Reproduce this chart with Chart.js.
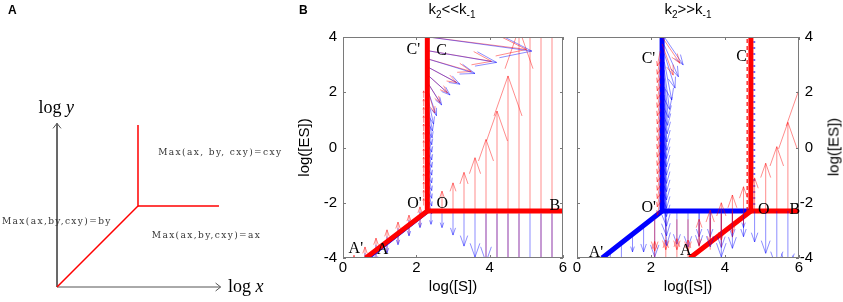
<!DOCTYPE html>
<html>
<head>
<meta charset="utf-8">
<script src="https://cdn.jsdelivr.net/npm/chart.js@4.4.1/dist/chart.umd.min.js"></script>
<style>
  body { margin: 0; width: 843px; height: 302px; background: #fff; position: relative; overflow: hidden;
         font-family: 'Liberation Sans', Arial, sans-serif; color: #000; }
  canvas { position: absolute; top: 0; }
  .tag { position: absolute; top: 3px; font-weight: bold; font-size: 12px; }
  .ttl { position: absolute; top: 10px; transform: translate(-50%, -50%); font-size: 15px; white-space: nowrap; }
  .ttl sub { font-size: 10px; }
  .ylab { position: absolute; left: 833px; top: 147px; transform: translate(-50%, -50%) rotate(-90deg);
          font-size: 15px; white-space: nowrap; }
</style>
</head>
<body>
<canvas id="cA" width="290" height="302" style="left:0"></canvas>
<canvas id="cL" width="280" height="302" style="left:290px"></canvas>
<canvas id="cR" width="273" height="302" style="left:570px"></canvas>
<div class="tag" style="left:8px">A</div>
<div class="tag" style="left:299px">B</div>
<div class="ttl" style="left:452px">k<sub>2</sub>&lt;&lt;k<sub>-1</sub></div>
<div class="ttl" style="left:688px">k<sub>2</sub>&gt;&gt;k<sub>-1</sub></div>
<div class="ylab">log([ES])</div>
<script>
const SANS = "'Liberation Sans', Arial, sans-serif";
const SERIF = "'Liberation Serif', 'Times New Roman', serif";
const RED = 'rgba(255,0,0,0.45)';
const BLUE = 'rgba(0,0,255,0.45)';

// ---- panel A (schematic, log units) ----
const axisLen = 2.02;
const aDiagX = [0, 1, 1], aDiagY = [0, 1, 2];   // diagonal + vertical branch
const aFlatX = [1, 2], aFlatY = [1, 1];         // horizontal branch
const aTexts = ['Max(ax, by, cxy)=cxy', 'Max(ax,by,cxy)=by', 'Max(ax,by,cxy)=ax'];
const aTextX = [1.25, -0.68, 1.17];
const aTextY = [1.66, 0.81, 0.64];

// ---- panel B left: k2 << k-1 ----
const lRedX = [0.62, 2.3, 2.3], lRedY = [-4, -2.3, 4];
const lRedHX = [2.3, 6], lRedHY = [-2.3, -2.3];
const lBlueX = [0.7, 2.28, 2.28], lBlueY = [-4, -2.36, 4];

const lUpX  = [2.7, 3.0, 3.3, 3.6, 3.9, 4.2, 4.5, 4.8, 5.1, 5.4, 5.7, 6.0];
const lUpTo = [-1.58, -1.28, -0.9, -0.37, 0.29, 1.32, 2.59, 4.3, 5.9, 7.4, 8.9, 10.5];
const lUnderX = [3.9, 4.2, 4.5, 4.8, 5.4, 5.7];
const lDownX  = [2.4, 2.7, 3.0, 3.3, 3.6, 3.9, 4.2, 4.5, 4.8, 5.1, 5.4, 5.7, 6.0];
const lDownTo = [-2.78, -2.9, -3.17, -3.57, -3.97, -4.15, -4.8, -5.2, -5.6, -6.0, -6.4, -6.8, -7.2];

const lDiagX = [0.3, 0.6, 0.9, 1.2, 1.5, 1.8, 2.1];
const lDiagUpFrom = [-4.67, -4.37, -4.07, -3.77, -3.47, -3.17, -2.87];
const lDiagUpTo   = [-3.9, -3.6, -3.28, -2.98, -2.7, -2.45, -2.15];
const lDiagDnFrom = [-4.12, -3.82, -3.52, -3.22, -2.92, -2.62, -2.32];
const lDiagDnTo   = [-4.72, -4.42, -4.12, -3.82, -3.52, -3.2, -2.9];

const lColY0 = [-2.1, -1.8, -1.5, -1.2, -0.9, -0.6, -0.3, 0.0, 0.3, 0.6, 0.9, 1.2, 1.5, 1.8];
const lColY1 = [-1.85, -1.55, -1.25, -0.95, -0.65, -0.35, -0.05, 0.25, 0.55, 0.85, 1.15, 1.45, 1.75, 2.05];

const lFanY0 = [4.0, 3.5, 3.2, 2.9, 2.6, 2.3, 2.0, 1.7, 1.4, 1.1, 0.8, 0.5, 0.2, -0.1, -0.4, -0.7, -1.0, -1.3, -1.6, -1.9];
const lFanX1 = [5.15, 4.19, 3.6, 3.19, 2.92, 2.69, 2.55, 2.47, 2.44, 2.43, 2.42, 2.42, 2.42, 2.42, 2.42, 2.42, 2.42, 2.42, 2.42, 2.42];
const lFanY1 = [3.49, 3.08, 2.68, 2.29, 1.9, 1.54, 1.15, 0.85, 0.6, 0.35, 0.1, -0.17, -0.45, -0.72, -1.0, -1.28, -1.56, -1.84, -2.12, -2.4];
const lRedFanY0 = [4.0, 3.5, 3.2, 2.9, 2.6, 2.3, 2.0];
const lRedFanX1 = [5.0, 4.05, 3.5, 3.1, 2.85, 2.65, 2.5];
const lRedFanY1 = [3.55, 3.12, 2.75, 2.35, 1.98, 1.62, 1.25];

// ---- panel B right: k2 >> k-1 ----
const rBlueX = [0.68, 2.3, 2.3], rBlueY = [-4, -2.3, 4];
const rBlueHX = [2.3, 4.7], rBlueHY = [-2.3, -2.3];
const rRedX = [3.05, 4.7, 4.7], rRedY = [-4, -2.3, 4];
const rRedHX = [4.7, 6], rRedHY = [-2.3, -2.3];
const rDashX = [4.6, 4.6], rDotX = [4.79, 4.79], rDashY = [-2.3, 4];

const rDownX    = [0.9, 1.2, 1.5, 1.8, 2.1, 2.7, 3.0, 3.3, 3.6, 3.9, 4.2, 4.5, 4.8, 5.1, 5.4, 5.7, 6.0];
const rDownFrom = [-3.77, -3.45, -3.14, -2.82, -2.51, -2.3, -2.3, -2.3, -2.3, -2.3, -2.3, -2.3, -2.3, -2.3, -2.3, -2.3, -2.3];
const rDownTo   = [-4.3, -4.4, -3.78, -3.78, -3.96, -3.5, -3.6, -3.23, -3.23, -3.96, -3.65, -3.23, -3.42, -3.83, -4.4, -4.5, -4.6];
const rDown2X  = [3.3, 3.6, 3.9, 4.2, 4.5];
const rDown2To = [-3.55, -3.6, -3.62, -3.23, -2.9];

const rUpX    = [3.3, 3.6, 3.9, 4.2, 4.5, 4.8, 5.1, 5.4, 5.7, 6.0];
const rUpFrom = [-3.6, -3.7, -3.6, -3.25, -2.8, -2.35, -2.3, -2.3, -2.3, -2.3];
const rUpTo   = [-2.6, -2.27, -2.0, -1.72, -1.42, -1.1, -0.57, 0.03, 0.91, 2.1];
const rRedDnX    = [3.3, 3.6, 3.9, 4.2];
const rRedDnFrom = [-2.75, -2.55, -2.4, -2.3];
const rRedDnTo   = [-3.55, -3.5, -3.35, -3.1];
const rCrossX    = [2.1, 2.4, 2.7, 3.0];
const rCrossUpTo = [-3.4, -3.35, -3.3, -3.35];
const rCrossDnTo = [-3.75, -3.7, -3.7, -3.75];

const rFanY0 = [4.0, 3.7, 3.4, 3.1, 2.8, 2.5, 2.2, 1.9, 1.6, 1.3, 1.0, 0.7, 0.4, 0.1, -0.2, -0.5, -0.8, -1.1, -1.4, -1.7, -2.0];
const rFanX1 = [2.87, 2.74, 2.65, 2.56, 2.5, 2.47, 2.45, 2.44, 2.43, 2.43, 2.42, 2.42, 2.42, 2.42, 2.42, 2.42, 2.42, 2.42, 2.42, 2.42, 2.42];
const rFanY1 = [2.99, 2.56, 2.15, 1.72, 1.38, 1.08, 0.8, 0.5, 0.2, -0.1, -0.4, -0.7, -1.0, -1.3, -1.6, -1.9, -2.2, -2.5, -2.85, -3.2, -3.55];
const rColY0 = [3.5, 3.2, 2.9, 2.6, 2.3, 2.0, 1.7, 1.4, 1.1, 0.8, 0.5, 0.2, -0.1, -0.4, -0.7, -1.0, -1.3, -1.6, -1.9];
const rColY1 = [2.95, 2.65, 2.35, 2.05, 1.75, 1.45, 1.15, 0.85, 0.55, 0.25, -0.05, -0.35, -0.65, -0.95, -1.25, -1.55, -1.85, -2.15, -2.45];
const rRedFanY0 = [4.0, 3.75], rRedFanX1 = [2.78, 2.6], rRedFanY1 = [3.05, 2.62];

// point labels
const names = ["C'", 'C', "O'", 'O', 'B', "A'", 'A'];
const lNameX = [1.92, 2.69, 1.95, 2.71, 5.78, 0.35, 1.08];
const lNameY = [3.53, 3.5, -2.05, -2.05, -2.12, -3.66, -3.71];
const rNameX = [1.93, 4.45, 1.94, 5.05, 5.89, 0.51, 2.94];
const rNameY = [3.2, 3.29, -2.17, -2.26, -2.26, -3.82, -3.75];

const pts = (xs, ys) => xs.map((x, i) => ({x: x, y: ys[i]}));
const at = (v, i) => Array.isArray(v) ? v[i] : v;

function line(xs, ys, color, width, dash) {
  return { data: pts(xs, ys), showLine: true, borderColor: color, borderWidth: width,
           borderDash: dash || [], pointRadius: 0, clip: 0 };
}

// quiver arrows, MATLAB style: line + open head
function drawQuiver(chart, groups) {
  const {ctx, chartArea: a, scales: {x, y}} = chart;
  ctx.save();
  ctx.beginPath(); ctx.rect(a.left, a.top, a.width, a.height); ctx.clip();
  ctx.lineWidth = 1;
  groups.forEach(g => {
    const n = Math.max(...[g.x0, g.y0, g.x1, g.y1].map(v => Array.isArray(v) ? v.length : 0));
    ctx.strokeStyle = g.color;
    for (let i = 0; i < n; i++) {
      const px0 = x.getPixelForValue(at(g.x0, i)), py0 = y.getPixelForValue(at(g.y0, i));
      const px1 = x.getPixelForValue(at(g.x1, i)), py1 = y.getPixelForValue(at(g.y1, i));
      ctx.beginPath();
      ctx.moveTo(px0, py0); ctx.lineTo(px1, py1);
      const dx = px1 - px0, dy = py1 - py0, L = Math.hypot(dx, dy);
      if (g.head !== false && L > 1) {
        const h = Math.min(0.3 * L, 40), w = h * 0.35, ux = dx / L, uy = dy / L;
        const bx = px1 - ux * h, by = py1 - uy * h;
        ctx.moveTo(bx - uy * w, by + ux * w); ctx.lineTo(px1, py1); ctx.lineTo(bx + uy * w, by - ux * w);
      }
      ctx.stroke();
    }
  });
  ctx.restore();
}

const frame = {
  id: 'frame',
  afterDraw(chart) {
    const {ctx, chartArea: a, scales: {x, y}} = chart;
    ctx.save();
    ctx.strokeStyle = '#7a7a7a'; ctx.lineWidth = 1;
    ctx.strokeRect(a.left + 0.5, a.top + 0.5, a.width - 1, a.height - 1);
    ctx.beginPath();
    x.ticks.forEach(t => {
      const p = Math.round(x.getPixelForValue(t.value)) + 0.5;
      ctx.moveTo(p, a.bottom); ctx.lineTo(p, a.bottom - 3);
      ctx.moveTo(p, a.top); ctx.lineTo(p, a.top + 3);
    });
    y.ticks.forEach(t => {
      const p = Math.round(y.getPixelForValue(t.value)) + 0.5;
      ctx.moveTo(a.left, p); ctx.lineTo(a.left + 3, p);
      ctx.moveTo(a.right, p); ctx.lineTo(a.right - 3, p);
    });
    ctx.stroke();
    ctx.restore();
  }
};

function namesPlugin(xs, ys) {
  return {
    id: 'names',
    afterDraw(chart) {
      const {ctx, scales: {x, y}} = chart;
      ctx.save();
      ctx.font = '16px ' + SERIF; ctx.fillStyle = '#000';
      ctx.textAlign = 'center'; ctx.textBaseline = 'middle';
      names.forEach((t, i) => ctx.fillText(t, x.getPixelForValue(xs[i]), y.getPixelForValue(ys[i])));
      ctx.restore();
    }
  };
}

function quiverPlugin(groups, onTop) {
  const p = { id: 'quiver' };
  p[onTop ? 'afterDatasetsDraw' : 'beforeDatasetsDraw'] = chart => drawQuiver(chart, groups);
  return p;
}

function bChart(id, side, datasets, groups, onTop, nx, ny) {
  const tickFont = { family: SANS, size: 15 };
  const isLeft = side === 'left';
  const yAxis = {
    min: -4, max: 4, position: side,
    ticks: { stepSize: 2, color: '#000', font: tickFont, padding: isLeft ? 6 : 0,
             crossAlign: isLeft ? 'near' : 'far' },
    grid: { display: false, drawTicks: false }, border: { display: false },
    title: { display: isLeft, text: 'log([ES])', color: '#000', font: tickFont,
             padding: { top: 6, bottom: 0 } },
    afterFit(s) { s.width = isLeft ? 53 : 14; }
  };
  new Chart(document.getElementById(id), {
    type: 'scatter',
    data: { datasets: datasets },
    options: {
      responsive: false, animation: false, events: [],
      layout: { padding: isLeft ? { left: 0, right: 7, top: 37, bottom: 0 }
                                : { left: 7, right: 30, top: 37, bottom: 0 } },
      plugins: { legend: { display: false }, tooltip: { enabled: false } },
      scales: {
        x: {
          type: 'linear', min: 0, max: 6,
          ticks: { stepSize: 2, color: '#000', font: tickFont, padding: 1 },
          grid: { display: false, drawTicks: false }, border: { display: false },
          title: { display: true, text: 'log([S])', color: '#000', font: tickFont,
                   padding: { top: 0, bottom: 6 } },
          afterFit(s) { s.height = 44; }
        },
        y: yAxis
      }
    },
    plugins: [quiverPlugin(groups, onTop), frame, namesPlugin(nx, ny)]
  });
}

// ---- panel A chart ----
const panelAText = {
  id: 'panelAText',
  afterDatasetsDraw(chart) {
    const {ctx, scales: {x, y}} = chart;
    ctx.save();
    ctx.strokeStyle = '#555'; ctx.lineWidth = 1;
    const ex = x.getPixelForValue(axisLen), ey = y.getPixelForValue(0);
    ctx.beginPath(); ctx.moveTo(ex - 5, ey - 4); ctx.lineTo(ex, ey); ctx.lineTo(ex - 5, ey + 4); ctx.stroke();
    const tx = x.getPixelForValue(0), ty = y.getPixelForValue(axisLen);
    ctx.beginPath(); ctx.moveTo(tx - 4, ty + 5); ctx.lineTo(tx, ty); ctx.lineTo(tx + 4, ty + 5); ctx.stroke();

    ctx.font = "9px 'DejaVu Serif'"; ctx.letterSpacing = '1.4px';
    ctx.fillStyle = '#333'; ctx.textBaseline = 'middle'; ctx.textAlign = 'left';
    aTexts.forEach((t, i) => ctx.fillText(t, x.getPixelForValue(aTextX[i]), y.getPixelForValue(aTextY[i])));
    ctx.letterSpacing = '0px';
    ctx.fillStyle = '#000';
    mathLabel(ctx, 'log ', 'y', x.getPixelForValue(-0.01), y.getPixelForValue(2.21));
    mathLabel(ctx, 'log ', 'x', x.getPixelForValue(2.33), y.getPixelForValue(0));
    ctx.restore();
  }
};

function mathLabel(ctx, fn, v, cx, cy) {
  ctx.font = '18px ' + SERIF; const w1 = ctx.measureText(fn).width;
  ctx.font = 'italic 18px ' + SERIF; const w2 = ctx.measureText(v).width;
  const x0 = cx - (w1 + w2) / 2;
  ctx.font = '18px ' + SERIF; ctx.fillText(fn, x0, cy);
  ctx.font = 'italic 18px ' + SERIF; ctx.fillText(v, x0 + w1, cy);
}

new Chart(document.getElementById('cA'), {
  type: 'scatter',
  data: { datasets: [
    line(aDiagX, aDiagY, '#ff0000', 1.5),
    line(aFlatX, aFlatY, '#ff0000', 1.5),
    line([0, 0, axisLen], [axisLen, 0, 0], '#555', 1)
  ]},
  options: {
    responsive: false, animation: false, events: [],
    layout: { padding: 0 },
    plugins: { legend: { display: false }, tooltip: { enabled: false } },
    scales: {
      x: { type: 'linear', display: false, min: -0.704, max: 2.877 },
      y: { display: false, min: -0.185, max: 3.543 }
    }
  },
  plugins: [panelAText]
});

// ---- panel B charts ----
bChart('cL', 'left', [
  line(lRedX, lRedY, '#ff0000', 5),
  line(lRedHX, lRedHY, '#ff0000', 5),
  line(lBlueX, lBlueY, '#0000ff', 3)
], [
  { x0: lUnderX, y0: -4.3, x1: lUnderX, y1: -2.4, color: RED, head: false },
  { x0: lDownX, y0: -2.3, x1: lDownX, y1: lDownTo, color: BLUE },
  { x0: lUpX, y0: -2.3, x1: lUpX, y1: lUpTo, color: RED },
  { x0: lDiagX, y0: lDiagUpFrom, x1: lDiagX, y1: lDiagUpTo, color: RED },
  { x0: lDiagX, y0: lDiagDnFrom, x1: lDiagX, y1: lDiagDnTo, color: BLUE },
  { x0: 2.2, y0: lColY0, x1: 2.2, y1: lColY1, color: RED },
  { x0: 2.33, y0: lRedFanY0, x1: lRedFanX1, y1: lRedFanY1, color: RED },
  { x0: 2.33, y0: lFanY0, x1: lFanX1, y1: lFanY1, color: BLUE }
], false, lNameX, lNameY);

bChart('cR', 'right', [
  line(rRedX, rRedY, '#ff0000', 5),
  line(rRedHX, rRedHY, '#ff0000', 5),
  line(rDashX, rDashY, 'rgba(255,0,0,0.8)', 1.5, [4, 3]),
  line(rDotX, rDashY, 'rgba(0,0,255,0.6)', 2, [2, 4]),
  line(rBlueX, rBlueY, '#0000ff', 5),
  line(rBlueHX, rBlueHY, '#0000ff', 5)
], [
  { x0: rDownX, y0: rDownFrom, x1: rDownX, y1: rDownTo, color: BLUE },
  { x0: rDown2X, y0: -2.3, x1: rDown2X, y1: rDown2To, color: BLUE },
  { x0: rUpX, y0: rUpFrom, x1: rUpX, y1: rUpTo, color: RED },
  { x0: rRedDnX, y0: rRedDnFrom, x1: rRedDnX, y1: rRedDnTo, color: RED },
  { x0: rCrossX, y0: -4.3, x1: rCrossX, y1: rCrossUpTo, color: RED },
  { x0: rCrossX, y0: -2.6, x1: rCrossX, y1: rCrossDnTo, color: RED },
  { x0: 2.36, y0: rFanY0, x1: rFanX1, y1: rFanY1, color: BLUE },
  { x0: 2.25, y0: rColY0, x1: 2.17, y1: rColY1, color: RED },
  { x0: 2.3, y0: rRedFanY0, x1: rRedFanX1, y1: rRedFanY1, color: RED }
], true, rNameX, rNameY);
</script>
</body>
</html>
